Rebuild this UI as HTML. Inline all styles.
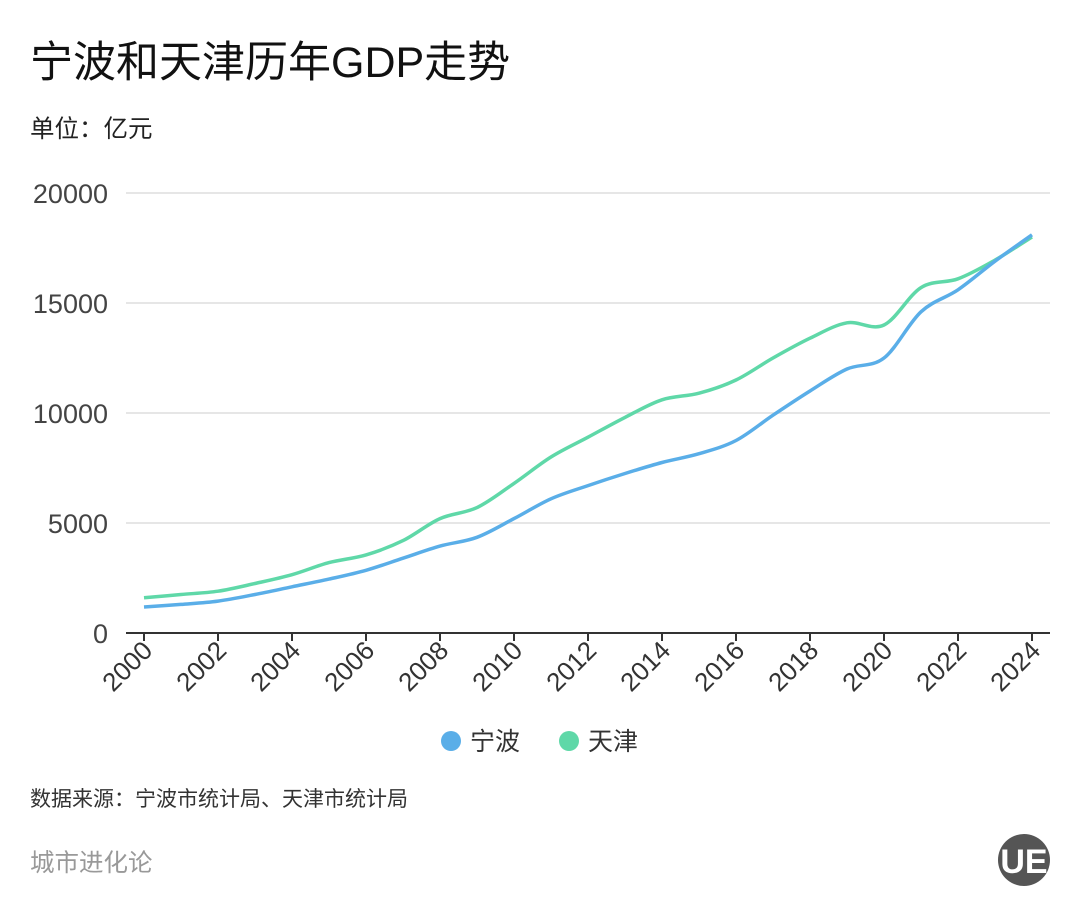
<!DOCTYPE html>
<html><head><meta charset="utf-8"><style>
body{margin:0;background:#fff;width:1080px;height:918px;overflow:hidden;font-family:"Liberation Sans","Noto Sans CJK SC",sans-serif}
</style></head><body>
<svg width="1080" height="918" xmlns="http://www.w3.org/2000/svg" font-family="Liberation Sans, Noto Sans CJK SC, sans-serif">
<text x="30" y="77" font-size="43" fill="#111">宁波和天津历年GDP走势</text>
<text x="30" y="137" font-size="24.5" fill="#222">单位：亿元</text>
<g id="grid"></g><g id="axes"></g><g id="lines"></g>
<g>
<circle cx="451" cy="741" r="10" fill="#5aaee8"/>
<text x="470" y="750" font-size="25" fill="#333">宁波</text>
<circle cx="569" cy="741" r="10" fill="#5fd8a8"/>
<text x="588" y="750" font-size="25" fill="#333">天津</text>
</g>
<text x="30" y="806" font-size="21" fill="#333">数据来源：宁波市统计局、天津市统计局</text>
<text x="30" y="871" font-size="24.5" fill="#999">城市进化论</text>
<g>
<circle cx="1024" cy="860" r="26" fill="#555"/>
<text x="1024" y="873" font-size="34" font-weight="bold" fill="#fff" text-anchor="middle">UE</text>
</g>
</svg>
<script>
const years=[2000,2001,2002,2003,2004,2005,2006,2007,2008,2009,2010,2011,2012,2013,2014,2015,2016,2017,2018,2019,2020,2021,2022,2023,2024];
const ningbo=[1180,1300,1450,1750,2100,2450,2850,3400,3950,4350,5200,6100,6700,7250,7750,8150,8750,9900,11000,12000,12500,14600,15600,16900,18100];
const tianjin=[1600,1750,1900,2250,2650,3200,3550,4200,5200,5700,6800,8000,8900,9800,10600,10900,11500,12500,13400,14100,14000,15700,16100,16950,18000];
const yTicks=[0,5000,10000,15000,20000];
const xTicks=[2000,2002,2004,2006,2008,2010,2012,2014,2016,2018,2020,2022,2024];
const NS="http://www.w3.org/2000/svg";
const X=v=>144+(v-2000)*37, Y=v=>633-v*0.022;
function mk(t,a,p){const e=document.createElementNS(NS,t);for(const k in a)e.setAttribute(k,a[k]);p.appendChild(e);return e;}
const grid=document.getElementById('grid'),axes=document.getElementById('axes'),lines=document.getElementById('lines');
yTicks.forEach(v=>{
 if(v>0){const l=mk('line',{x1:126,x2:1050,y1:Y(v),y2:Y(v),stroke:'#ddd','stroke-width':1.5},grid);
 
 }
 const t=mk('text',{x:108,y:Y(v)+10,'font-size':27,fill:'#444','text-anchor':'end'},axes);t.textContent=v;
 
 
});
const ax=mk('line',{x1:126,x2:1050,y1:633,y2:633,stroke:'#333','stroke-width':2},axes);


xTicks.forEach(v=>{
 const tk=mk('line',{x1:X(v),x2:X(v),y1:633,y2:641,stroke:'#333','stroke-width':2},axes);
 
 
 const t=mk('text',{x:0,y:0,'font-size':26,fill:'#333','text-anchor':'end',transform:`translate(${X(v)+10},${652}) rotate(-45)`},axes);t.textContent=v;
 
 
});
function path(vals){
 const p=vals.map((v,i)=>[X(years[i]),Y(v)]);let d=`M${p[0][0]},${p[0][1]}`;
 for(let i=0;i<p.length-1;i++){const p0=p[i-1]||p[i],p1=p[i],p2=p[i+1],p3=p[i+2]||p2;
  const c1=[p1[0]+(p2[0]-p0[0])/6,p1[1]+(p2[1]-p0[1])/6],c2=[p2[0]-(p3[0]-p1[0])/6,p2[1]-(p3[1]-p1[1])/6];
  d+=` C${c1[0]},${c1[1]} ${c2[0]},${c2[1]} ${p2[0]},${p2[1]}`;}
 return d;}
const lt=mk('path',{d:path(tianjin),fill:'none',stroke:'#5fd8a8','stroke-width':3.5},lines);


const ln=mk('path',{d:path(ningbo),fill:'none',stroke:'#5aaee8','stroke-width':3.5},lines);


</script>
</body></html>
